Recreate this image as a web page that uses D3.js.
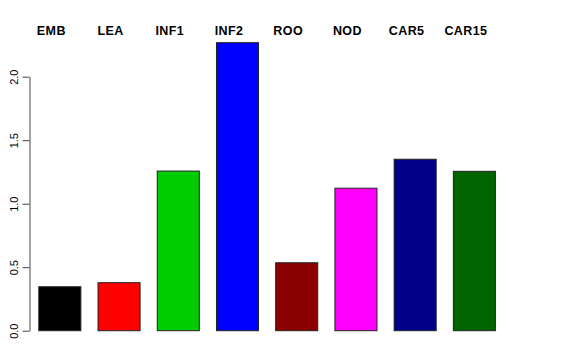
<!DOCTYPE html>
<html>
<head>
<script src="https://cdn.jsdelivr.net/npm/d3@7"></script>
<style>
  body { margin: 0; background: #fff; }
</style>
</head>
<body>
<script>
  var w = 576, h = 360;
  var tissues = ["EMB", "LEA", "INF1", "INF2", "ROO", "NOD", "CAR5", "CAR15"];
  var values = [0.346, 0.378, 1.257, 2.268, 0.535, 1.122, 1.350, 1.255];
  var colors = ["#000000", "#ff0000", "#00cd00", "#0000ff", "#8b0000", "#ff00ff", "#00008b", "#006400"];
  var yTicks = [0, 0.5, 1, 1.5, 2];

  var svg = d3.select("body").append("svg")
    .attr("width", w)
    .attr("height", h);

  var x = d3.scaleBand()
    .domain(tissues)
    .range([38.3, 494.9])
    .paddingInner(0.29)
    .paddingOuter(0);

  var y = d3.scaleLinear()
    .domain([0, 2])
    .range([330.7, 76.7]);

  svg.selectAll("rect.bar")
    .data(tissues)
    .enter()
    .append("rect")
    .attr("class", "bar")
    .attr("x", function (d) { return x(d) + 0.5; })
    .attr("y", function (d, i) { return y(values[i]); })
    .attr("width", x.bandwidth())
    .attr("height", function (d, i) { return y(0) - y(values[i]); })
    .attr("fill", function (d, i) { return colors[i]; })
    .attr("stroke", "#222")
    .attr("stroke-width", 1);

  // tissue names across the top
  svg.selectAll("text.lab")
    .data(tissues)
    .enter()
    .append("text")
    .attr("class", "lab")
    .attr("x", function (d) { return x(d) + x.bandwidth() / 2 - 8; })
    .attr("y", 34.5)
    .attr("text-anchor", "middle")
    .attr("font-family", "Liberation Sans, Arial, sans-serif")
    .attr("font-weight", "bold")
    .attr("font-size", "12.5px")
    .attr("letter-spacing", "0.4px")
    .attr("fill", "#000")
    .text(function (d) { return d; });

  var yAxis = svg.append("g")
    .attr("transform", "translate(29.5,0)")
    .call(d3.axisLeft(y).tickValues(yTicks).tickFormat(d3.format(".1f")).tickSize(7).tickSizeOuter(0));

  yAxis.select(".domain").attr("stroke", "#444");
  yAxis.selectAll(".tick line").attr("stroke", "#444");
  yAxis.selectAll(".tick text")
    .attr("font-family", "Liberation Sans, Arial, sans-serif")
    .attr("font-size", "11px")
    .attr("fill", "#000")
    .attr("text-anchor", "middle")
    .attr("x", 0)
    .attr("dy", 0)
    .attr("transform", "translate(-12,0) rotate(-90)");
</script>
</body>
</html>
